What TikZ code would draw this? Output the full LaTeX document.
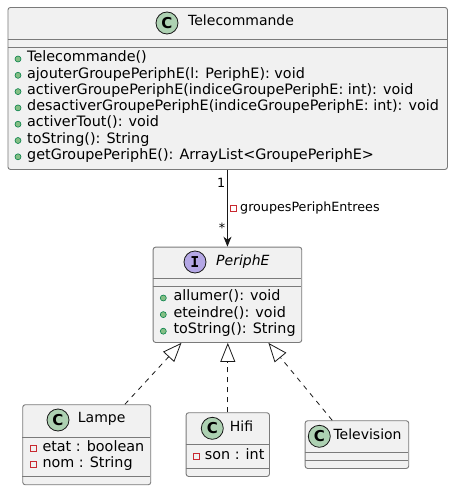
\documentclass[tikz,border=0pt]{standalone}
\usepackage{fontspec}
\setmainfont{DejaVu Sans}
\newfontfamily\monob{DejaVu Sans Mono}
\usetikzlibrary{arrows.meta,calc}
\definecolor{boxfill}{HTML}{F1F1F1}
\definecolor{boxline}{HTML}{7A7A7A}
\definecolor{ink}{HTML}{181818}
\definecolor{cgreen}{HTML}{ADD1B2}
\definecolor{ipurple}{HTML}{B4A7E5}
\definecolor{pubfill}{HTML}{84BE84}
\definecolor{publine}{HTML}{038048}
\definecolor{privline}{HTML}{C82930}
\tikzset{
 classbox/.style={draw=boxline, fill=boxfill, line width=0.9pt, rounded corners=2.5pt, inner sep=0, anchor=north west},
 sep/.style={draw=boxline, line width=0.9pt},
 member/.style={anchor=mid west, inner sep=0, font=\fontsize{14.35}{16}\selectfont, text=black},
 title/.style={anchor=mid west, inner sep=0, font=\fontsize{14}{16}\selectfont},
 pub/.style={circle, draw=publine, fill=pubfill, line width=0.6pt, minimum size=6pt, inner sep=0},
 priv/.style={rectangle, draw=privline, line width=0.8pt, minimum size=6pt, inner sep=0},
 spot/.style={circle, draw=ink, line width=0.8pt, minimum size=22pt, inner sep=0, font=\fontsize{15}{15}\selectfont\bfseries},
 assoc/.style={draw=ink, line width=0.9pt, -{Stealth[length=10pt,width=8pt,inset=3pt]}},
 realize/.style={draw=ink, line width=0.8pt, dash pattern=on 5pt off 5pt, -{Triangle[open, length=19pt, width=15pt, fill=white]}},
 lbl/.style={inner sep=0, font=\fontsize{12.7}{13}\selectfont},
}
\begin{document}
\begin{tikzpicture}[x=1pt,y=-1pt]
\useasboundingbox[fill=white] (0,0) rectangle (453,490);
% Telecommande
\node[classbox, minimum width=439.5pt, minimum height=162pt] (tele) at (7.5,7) {};
\draw[sep] (7.5,39) -- (447,39);
\draw[sep] (7.5,47) -- (447,47);
\node[spot, fill=cgreen] (teleC) at (167,23) {C};
\node[title] (teleT) at (188,23) {Telecommande};
\foreach \t [count=\i] in {Telecommande(), ajouterGroupePeriphE(l: PeriphE): void, activerGroupePeriphE(indiceGroupePeriphE: int): void, desactiverGroupePeriphE(indiceGroupePeriphE: int): void, activerTout(): void, toString(): String, getGroupePeriphE(): ArrayList<GroupePeriphE>}{
  \node[pub] (tp\i) at (18,{59+16.3*(\i-1)}) {};
  \node[member] (tm\i) at (27,{59+16.3*(\i-1)}) {\t};
}
% PeriphE
\node[classbox, minimum width=148.6pt, minimum height=95.3pt] (periph) at (152.7,246.7) {};
\draw[sep] (152.7,278) -- (301.3,278);
\draw[sep] (152.7,286.3) -- (301.3,286.3);
\node[spot, fill=ipurple] (perI) at (195,262) {\monob I};
\node[title, font=\fontsize{14}{16}\selectfont\itshape] (perT) at (216,262.3) {PeriphE};
\foreach \t [count=\i] in {allumer(): void, eteindre(): void, toString(): String}{
  \node[pub] (pp\i) at (163.3,{298+16.6*(\i-1)}) {};
  \node[member] (pm\i) at (173.3,{298+16.6*(\i-1)}) {\t};
}
% Lampe
\node[classbox, minimum width=128pt, minimum height=80pt] (lampe) at (22.3,404.3) {};
\draw[sep] (22.3,437) -- (150.3,437);
\draw[sep] (22.3,476.3) -- (150.3,476.3);
\node[spot, fill=cgreen] (lampeC) at (58,420) {C};
\node[title] (lampeT) at (77.7,420) {Lampe};
\node[priv] (lq1) at (33.3,448.3) {};
\node[member] (lm1) at (42.3,448.3) {etat : boolean};
\node[priv] (lq2) at (33.3,464.3) {};
\node[member] (lm2) at (42.3,464.3) {nom : String};
% Hifi
\node[classbox, minimum width=83.3pt, minimum height=63.7pt] (hifi) at (185.7,412.3) {};
\draw[sep] (185.7,444.3) -- (269,444.3);
\draw[sep] (185.7,468.3) -- (269,468.3);
\node[spot, fill=cgreen] (hifiC) at (212.3,428.3) {C};
\node[title] (hifiT) at (229.7,428.3) {Hifi};
\node[priv] (hq1) at (196.3,456.3) {};
\node[member] (hm1) at (204.7,456.3) {son : int};
% Television
\node[classbox, minimum width=103.6pt, minimum height=47.7pt] (tv) at (304.7,420.3) {};
\draw[sep] (304.7,452.3) -- (408.3,452.3);
\draw[sep] (304.7,460.3) -- (408.3,460.3);
\node[spot, fill=cgreen] (tvC) at (319.3,436.3) {C};
\node[title] (tvT) at (333.3,436.3) {Television};
% association
\draw[assoc] (periph.north |- tele.south) -- (periph.north);
\node[lbl, anchor=mid east] (m1) at (225.5,185) {1};
\node[lbl, anchor=mid east] (m2) at (225.5,229.5) {*};
\node[priv, minimum size=5.5pt] (aq) at (233.2,208.3) {};
\node[lbl, anchor=mid west] (al) at (240,208.3) {groupesPeriphEntrees};
% realizations
\coordinate (ltip) at ($(periph.south)+(-46,0)$);
\coordinate (lfoot) at ($(lampe.north east)+(-26.3,0)$);
\draw[realize] (lfoot) -- (ltip);
\draw[realize] (hifi.north) -- (periph.south -| hifi.north);
\coordinate (ttip) at ($(periph.south)+(41,0)$);
\coordinate (tfoot) at ($(tv.north west)+(27.5,0)$);
\draw[realize] (tfoot) -- (ttip);
\end{tikzpicture}
\end{document}
